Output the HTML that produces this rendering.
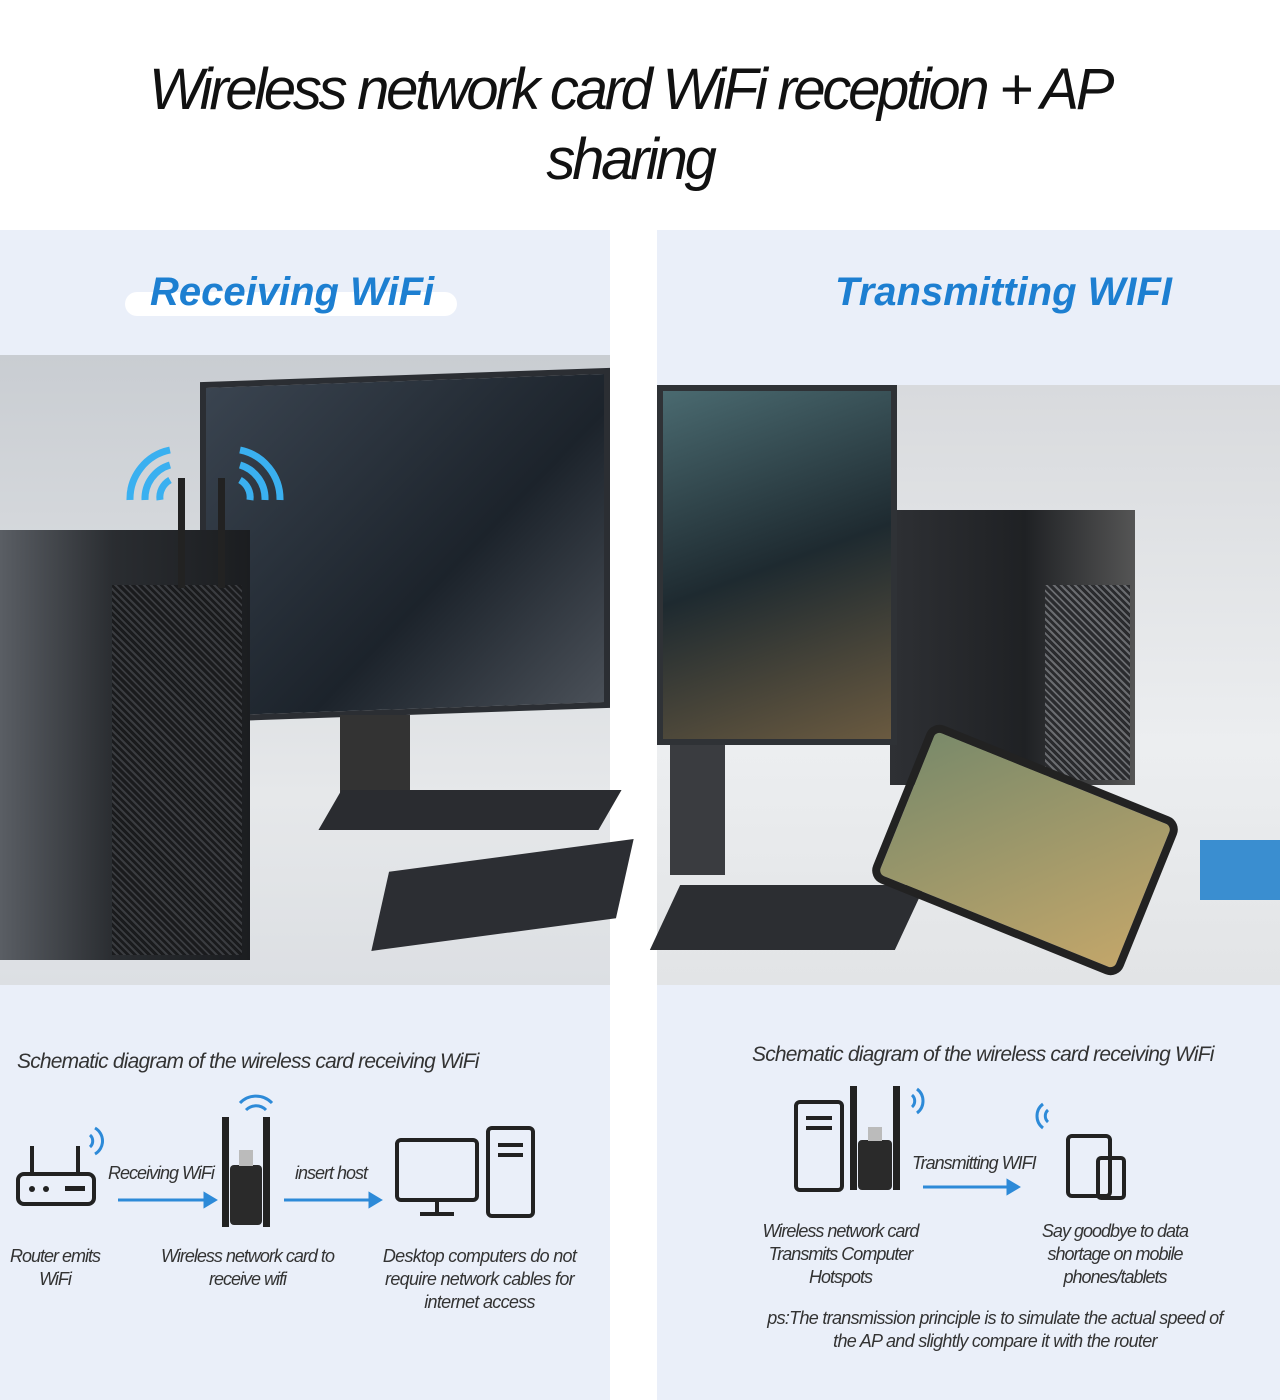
<!DOCTYPE html>
<html><head><meta charset="utf-8"><style>
*{margin:0;padding:0;box-sizing:border-box}
body{width:1280px;height:1400px;background:#fff;position:relative;overflow:hidden;font-family:"Liberation Sans",sans-serif}
.a{position:absolute}
.title{left:0;width:1260px;text-align:center;font-size:58px;line-height:70px;letter-spacing:-3.3px;top:55px;color:#111;font-style:italic}
.panel{background:#eaeff9}
.h{font-weight:bold;font-style:italic;color:#1d7fd1;font-size:40px;letter-spacing:0px}
.s{font-size:19px;color:#333;font-style:italic;letter-spacing:-1px;text-align:center;line-height:23px}
</style></head><body>
<div class="a title">Wireless network card WiFi reception + AP<br>sharing</div>

<div class="a panel" style="left:0;top:230px;width:610px;height:1170px"></div>
<div class="a panel" style="left:657px;top:230px;width:623px;height:1170px"></div>

<div class="a" style="left:125px;top:292px;width:332px;height:24px;background:#fff;border-radius:12px"></div>
<div class="a h" style="left:150px;top:270px">Receiving WiFi</div>
<div class="a h" style="left:835px;top:270px">Transmitting WIFI</div>

<!-- left photo -->
<div class="a" style="left:0;top:355px;width:610px;height:630px;background:linear-gradient(180deg,#c9cdd2,#e6e8ea 70%,#dcdfe3)"></div>
<div class="a" style="left:200px;top:375px;width:410px;height:340px;background:linear-gradient(135deg,#3a4450,#1c232b 60%,#4a5058);border:6px solid #2b2e33;transform:skewY(-2deg)"></div>
<div class="a" style="left:340px;top:715px;width:70px;height:100px;background:#333"></div>
<div class="a" style="left:330px;top:790px;width:280px;height:40px;background:#2a2c30;transform:skewX(-30deg)"></div>
<div class="a" style="left:0;top:530px;width:250px;height:430px;background:linear-gradient(90deg,#5a5e64,#2a2d31 45%,#1b1d20)"></div>
<div class="a" style="left:112px;top:585px;width:130px;height:370px;background:repeating-linear-gradient(45deg,#1a1b1d 0 3px,#3a3c40 3px 5px)"></div>
<div class="a" style="left:178px;top:478px;width:7px;height:110px;background:#222"></div>
<div class="a" style="left:218px;top:478px;width:7px;height:110px;background:#222"></div>
<div class="a" style="left:385px;top:855px;width:235px;height:80px;background:#2c2e33;transform:skewX(-20deg) rotate(-8deg)"></div>
<svg class="a" style="left:110px;top:440px" width="200" height="70"><g fill="none" stroke="#3ab0f0" stroke-width="7"><path d="M50 60 A20 20 0 0 1 60 40"/><path d="M35 60 A35 35 0 0 1 60 25"/><path d="M20 60 A50 50 0 0 1 60 10"/><path d="M140 60 A20 20 0 0 0 130 40"/><path d="M155 60 A35 35 0 0 0 130 25"/><path d="M170 60 A50 50 0 0 0 130 10"/></g></svg>

<!-- right photo -->
<div class="a" style="left:657px;top:385px;width:623px;height:600px;background:linear-gradient(180deg,#d8dadd,#eceef0 60%,#e2e4e6)"></div>
<div class="a" style="left:890px;top:510px;width:245px;height:275px;background:linear-gradient(90deg,#2e3034,#1f2124 55%,#555)"></div>
<div class="a" style="left:1045px;top:585px;width:85px;height:195px;background:repeating-linear-gradient(45deg,#2a2b2e 0 3px,#6a6c70 3px 5px)"></div>
<div class="a" style="left:657px;top:385px;width:240px;height:360px;background:linear-gradient(160deg,#4a6a70,#1e2a30 50%,#6a5a40);border:6px solid #2f3236"></div>
<div class="a" style="left:670px;top:745px;width:55px;height:130px;background:#3a3c40"></div>
<div class="a" style="left:665px;top:885px;width:245px;height:65px;background:#2c2e32;transform:skewX(-25deg)"></div>
<div class="a" style="left:890px;top:765px;width:270px;height:170px;background:linear-gradient(135deg,#7a8a6a,#c2a66a);border:8px solid #222;border-radius:14px;transform:rotate(22deg)"></div>
<div class="a" style="left:1200px;top:840px;width:80px;height:60px;background:#3a8ed0"></div>

<!-- left schematic -->
<div class="a s" style="left:17px;top:1050px;text-align:left;font-size:21px;letter-spacing:-0.8px">Schematic diagram of the wireless card receiving WiFi</div>
<svg class="a" style="left:10px;top:1090px" width="600" height="140">
<g fill="none" stroke="#222" stroke-width="4"><rect x="8" y="84" width="76" height="30" rx="6"/><line x1="22" y1="84" x2="22" y2="56"/><line x1="68" y1="84" x2="68" y2="56"/>
<rect x="387" y="50" width="80" height="60" rx="4"/><rect x="478" y="38" width="45" height="88" rx="4"/><line x1="427" y1="110" x2="427" y2="122"/><line x1="410" y1="124" x2="444" y2="124"/><line x1="488" y1="55" x2="513" y2="55"/><line x1="488" y1="65" x2="513" y2="65"/></g>
<circle cx="22" cy="99" r="3" fill="#222"/><circle cx="36" cy="99" r="3" fill="#222"/><rect x="55" y="96" width="20" height="5" fill="#222"/>
<g fill="none" stroke="#2d8ad8" stroke-width="3"><path d="M80 45 a8 8 0 0 1 0 12"/><path d="M85 38 a15 15 0 0 1 0 26"/><path d="M236 20 a14 14 0 0 1 20 0"/><path d="M230 13 a22 22 0 0 1 32 0"/></g>
<rect x="212" y="27" width="7" height="110" fill="#222"/><rect x="253" y="27" width="7" height="110" fill="#222"/><rect x="220" y="75" width="32" height="60" rx="4" fill="#2a2a2a"/><rect x="229" y="60" width="14" height="16" fill="#bbb"/>
<g stroke="#2d8ad8" stroke-width="3" fill="#2d8ad8"><line x1="108" y1="110" x2="195" y2="110"/><path d="M195 104 L205 110 L195 116Z"/><line x1="274" y1="110" x2="360" y2="110"/><path d="M360 104 L370 110 L360 116Z"/></g>
</svg>
<div class="a s" style="left:108px;top:1162px;font-size:18px">Receiving WiFi</div>
<div class="a s" style="left:295px;top:1162px;font-size:18px">insert host</div>
<div class="a s" style="left:0;top:1245px;width:110px;font-size:18px">Router emits<br>WiFi</div>
<div class="a s" style="left:150px;top:1245px;width:195px;font-size:18px">Wireless network card to<br>receive wifi</div>
<div class="a s" style="left:372px;top:1245px;width:215px;font-size:18px;letter-spacing:-0.7px">Desktop computers do not<br>require network cables for<br>internet access</div>

<!-- right schematic -->
<div class="a s" style="left:752px;top:1043px;text-align:left;font-size:21px;letter-spacing:-0.8px">Schematic diagram of the wireless card receiving WiFi</div>
<svg class="a" style="left:780px;top:1080px" width="400" height="130">
<g fill="none" stroke="#222" stroke-width="4"><rect x="16" y="22" width="46" height="88" rx="4"/><line x1="26" y1="38" x2="52" y2="38"/><line x1="26" y1="48" x2="52" y2="48"/>
<rect x="288" y="56" width="42" height="60" rx="4"/><rect x="318" y="78" width="26" height="40" rx="3"/></g>
<rect x="70" y="6" width="7" height="104" fill="#222"/><rect x="113" y="6" width="7" height="104" fill="#222"/><rect x="78" y="60" width="34" height="50" rx="4" fill="#2a2a2a"/><rect x="88" y="47" width="14" height="14" fill="#bbb"/>
<g fill="none" stroke="#2d8ad8" stroke-width="3"><path d="M132 15 a8 8 0 0 1 0 12"/><path d="M137 9 a15 15 0 0 1 0 24"/><path d="M268 42 a8 8 0 0 1 0 -12"/><path d="M263 48 a15 15 0 0 1 0 -24"/></g>
<g stroke="#2d8ad8" stroke-width="3" fill="#2d8ad8"><line x1="143" y1="107" x2="228" y2="107"/><path d="M228 101 L238 107 L228 113Z"/></g>
</svg>
<div class="a s" style="left:912px;top:1152px;font-size:18px">Transmitting WIFI</div>
<div class="a s" style="left:748px;top:1220px;width:185px;font-size:18px">Wireless network card<br>Transmits Computer<br>Hotspots</div>
<div class="a s" style="left:1025px;top:1220px;width:180px;font-size:18px">Say goodbye to data<br>shortage on mobile<br>phones/tablets</div>
<div class="a s" style="left:755px;top:1307px;width:480px;font-size:18px;letter-spacing:-0.7px">ps:The transmission principle is to simulate the actual speed of<br>the AP and slightly compare it with the router</div>
</body></html>
